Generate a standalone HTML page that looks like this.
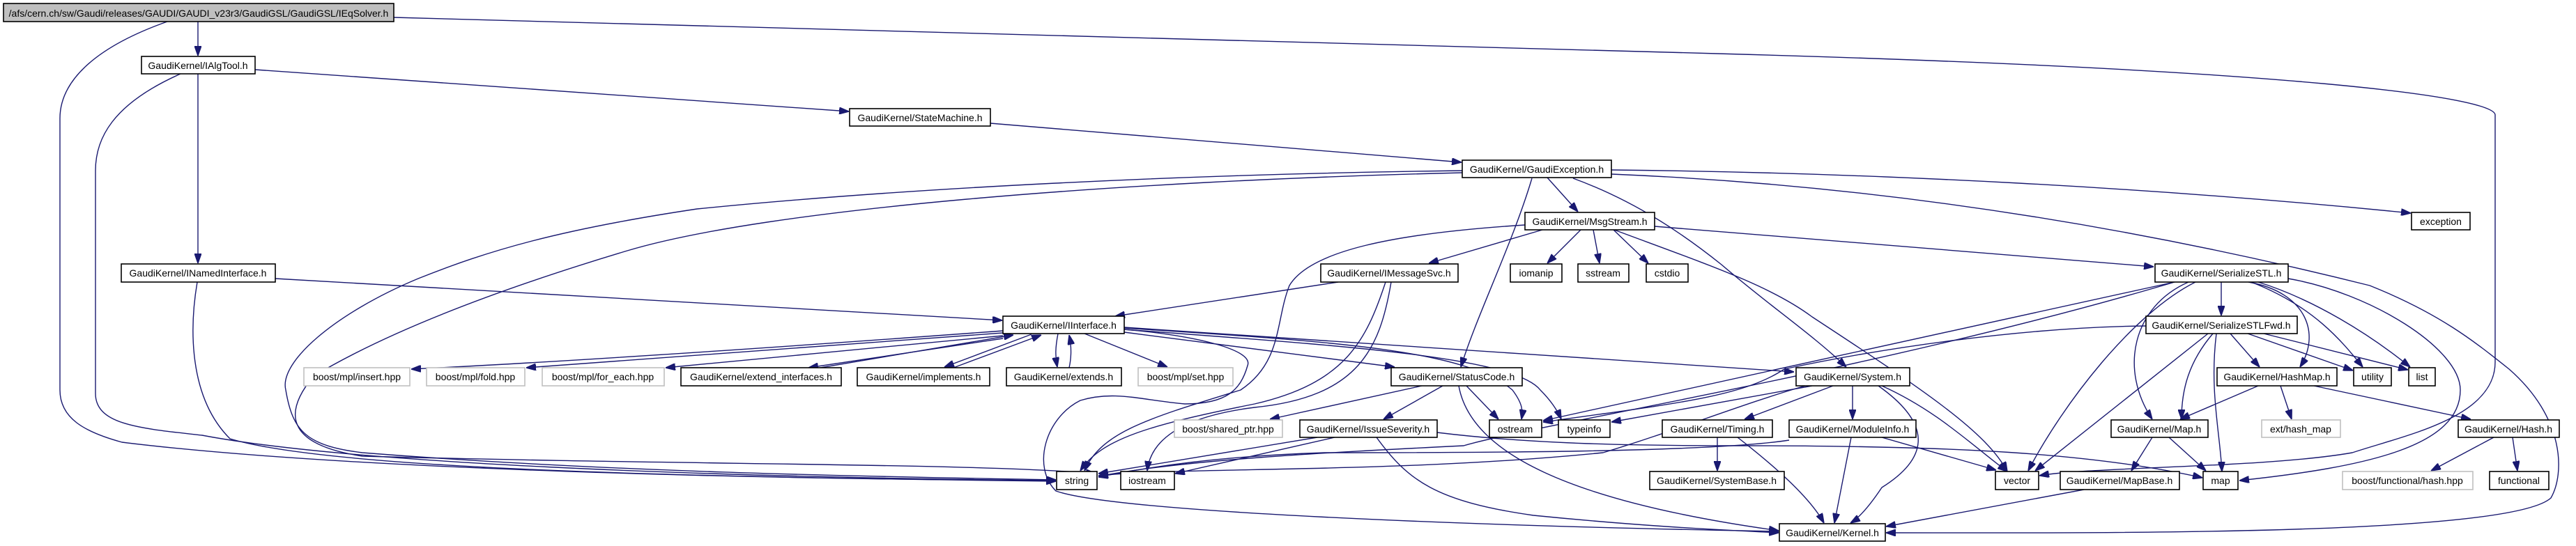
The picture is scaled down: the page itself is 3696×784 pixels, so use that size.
<!DOCTYPE html>
<html><head><meta charset="utf-8"><style>
html,body{margin:0;padding:0;background:#fff;}
svg{display:block;}
text{font-family:"Liberation Sans",sans-serif;font-size:14px;fill:#000;text-anchor:middle;}
.b rect{fill:#fff;stroke:#000;stroke-width:1.6;}
.g rect{fill:#fff;stroke:#bfbfbf;stroke-width:1.6;}
.e path{fill:none;stroke:#191970;stroke-width:1.4;marker-end:url(#a);}
</style></head><body>
<svg width="3696" height="784" viewBox="0 0 3696 784" xmlns="http://www.w3.org/2000/svg">
<defs><marker id="a" viewBox="0 0 10 7" refX="10" refY="3.5" markerWidth="14" markerHeight="10" markerUnits="userSpaceOnUse" orient="auto"><path d="M0,0 L10,3.5 L0,7 z" fill="#191970" stroke="#191970"/></marker></defs>
<g class="e">
<path d="M284,31 L284,80"/>
<path d="M240,31 C130,70 86,120 86,170 L86,560 C86,600 120,620 175,635 C500,675 1100,688 1515,690"/>
<path d="M565,25 L2464,77 C3300,100 3580,140 3580,165 L3580,520 C3580,600 3450,625 3375,650 C3250,672 3000,670 2926,683"/>
<path d="M366,100 L1218,160"/>
<path d="M259,106 C160,150 137,200 137,245 L137,565 C137,610 200,615 290,625 C500,665 1000,685 1515,690"/>
<path d="M284,106 L284,378"/>
<path d="M395,400 L1438,460"/>
<path d="M283,405 C272,470 270,570 330,630 C480,675 1000,685 1515,691"/>
<path d="M1421,177 L2097,233"/>
<path d="M2312,244 C2700,248 3100,270 3459,306"/>
<path d="M2312,250 C2800,270 3200,360 3400,410 C3500,450 3550,490 3600,530 C3680,600 3680,680 3660,715 C3600,770 3000,765 2706,765"/>
<path d="M2220,255 L2264,304"/>
<path d="M2198,256 C2170,350 2120,450 2096,527"/>
<path d="M2257,256 C2350,290 2420,340 2470,380 C2540,440 2600,480 2649,527"/>
<path d="M2098,245 C1700,250 1300,270 1000,300 C800,330 700,360 600,400 C480,450 400,520 410,560 C420,620 440,640 520,650 C900,680 1300,685 1515,689"/>
<path d="M2098,248 C1600,260 1100,300 900,360 C700,420 550,480 450,540 C400,600 420,640 520,655 C1000,668 1400,665 1572,680"/>
<path d="M2213,330 L2050,378"/>
<path d="M2268,330 L2220,378"/>
<path d="M2286,330 L2295,378"/>
<path d="M2315,330 L2365,378"/>
<path d="M2374,325 L3090,383"/>
<path d="M2316,330 C2450,380 2540,410 2600,455 C2760,560 2850,620 2880,677"/>
<path d="M2188,323 C2000,335 1880,360 1850,410 C1830,460 1840,520 1780,560 C1650,600 1580,620 1556,676"/>
<path d="M1920,405 L1600,454"/>
<path d="M1988,405 C1960,490 1930,550 1800,580 C1650,610 1580,630 1550,676"/>
<path d="M1996,405 C1980,500 1950,570 1800,585 C1680,600 1650,640 1646,676"/>
<path d="M1439,475 C1100,500 800,520 590,530"/>
<path d="M1439,478 L755,528"/>
<path d="M1439,482 L955,528"/>
<path d="M1439,486 L1160,528"/>
<path d="M1165,530 L1454,481"/>
<path d="M1480,480 L1355,527"/>
<path d="M1368,528 L1494,481"/>
<path d="M1518,479 C1514,500 1514,510 1517,527"/>
<path d="M1534,528 C1538,510 1537,495 1534,481"/>
<path d="M1556,479 L1675,527"/>
<path d="M1613,477 L2001,527"/>
<path d="M1613,470 L2574,534"/>
<path d="M1613,471 C1900,490 2100,500 2170,560 C2185,580 2185,590 2183,602"/>
<path d="M1613,473 C1900,495 2170,510 2210,560 C2230,580 2237,595 2240,602"/>
<path d="M1613,473 C1700,480 1800,500 1790,525 C1780,560 1760,580 1700,580 C1640,575 1600,560 1550,575 C1500,600 1480,670 1515,705 C1600,735 2100,755 2552,763"/>
<path d="M2040,554 L1822,602"/>
<path d="M2070,554 L1985,602"/>
<path d="M2104,554 L2150,602"/>
<path d="M2093,554 C2110,650 2250,720 2552,762"/>
<path d="M1890,628 L1576,680"/>
<path d="M1915,628 L1686,680"/>
<path d="M1975,628 C2020,690 2060,720 2200,740 C2350,755 2450,760 2552,765"/>
<path d="M2062,621 C2200,638 2350,640 2500,640 C2800,640 3000,650 3160,686"/>
<path d="M3187,405 L3187,453"/>
<path d="M3120,405 C2700,530 2200,610 2100,640 C1900,650 1700,660 1576,684"/>
<path d="M3120,405 L2214,604"/>
<path d="M3079,468 C2900,470 2700,500 2560,530 C2500,570 2400,580 2214,606"/>
<path d="M2600,554 L2312,606"/>
<path d="M2590,554 C2500,580 2400,620 2300,650 C2000,680 1700,670 1576,683"/>
<path d="M2630,554 L2503,602"/>
<path d="M2658,554 L2658,602"/>
<path d="M2700,554 C2780,590 2830,640 2880,677"/>
<path d="M2695,554 C2760,600 2780,650 2700,700 C2680,730 2665,745 2655,751"/>
<path d="M2464,628 L2464,676"/>
<path d="M2493,628 C2560,680 2600,720 2617,751"/>
<path d="M2656,628 L2632,751"/>
<path d="M2700,628 L2864,675"/>
<path d="M2567,632 C2450,650 2100,650 1900,650 C1750,655 1650,670 1576,685"/>
<path d="M2990,703 L2706,756"/>
<path d="M3200,479 L3242,527"/>
<path d="M3225,479 L3376,532"/>
<path d="M3248,479 L3455,531"/>
<path d="M3175,479 C3140,520 3130,560 3130,602"/>
<path d="M3180,479 C3170,560 3185,620 3188,677"/>
<path d="M3168,479 L2920,676"/>
<path d="M3150,405 C3060,450 2960,580 2910,676"/>
<path d="M3140,405 C3060,440 3040,530 3088,602"/>
<path d="M3226,405 C3310,420 3330,480 3300,527"/>
<path d="M3230,405 C3320,440 3360,490 3390,527"/>
<path d="M3240,405 C3320,430 3400,480 3458,527"/>
<path d="M3283,400 C3400,420 3530,500 3530,560 C3530,640 3400,670 3213,690"/>
<path d="M3240,554 L3128,602"/>
<path d="M3272,554 L3288,602"/>
<path d="M3320,554 L3545,602"/>
<path d="M3088,628 L3058,676"/>
<path d="M3112,628 L3165,676"/>
<path d="M3578,628 L3488,676"/>
<path d="M3605,628 L3612,676"/>
</g>
<g class="b"><rect x="5" y="5" width="560" height="26" style="fill:#bfbfbf"/><text x="285" y="24">/afs/cern.ch/sw/Gaudi/releases/GAUDI/GAUDI_v23r3/GaudiGSL/GaudiGSL/IEqSolver.h</text></g>
<g class="b"><rect x="203" y="81" width="163" height="25"/><text x="284" y="99">GaudiKernel/IAlgTool.h</text></g>
<g class="b"><rect x="174" y="379" width="221" height="26"/><text x="284" y="397">GaudiKernel/INamedInterface.h</text></g>
<g class="b"><rect x="1219" y="156" width="202" height="25"/><text x="1320" y="174">GaudiKernel/StateMachine.h</text></g>
<g class="b"><rect x="2098" y="230" width="214" height="25"/><text x="2205" y="248">GaudiKernel/GaudiException.h</text></g>
<g class="b"><rect x="2188" y="305" width="186" height="25"/><text x="2281" y="323">GaudiKernel/MsgStream.h</text></g>
<g class="b"><rect x="3460" y="305" width="84" height="25"/><text x="3502" y="323">exception</text></g>
<g class="b"><rect x="1895" y="379" width="197" height="26"/><text x="1993" y="397">GaudiKernel/IMessageSvc.h</text></g>
<g class="b"><rect x="2167" y="379" width="74" height="26"/><text x="2204" y="397">iomanip</text></g>
<g class="b"><rect x="2264" y="379" width="73" height="26"/><text x="2300" y="397">sstream</text></g>
<g class="b"><rect x="2362" y="379" width="60" height="26"/><text x="2392" y="397">cstdio</text></g>
<g class="b"><rect x="3092" y="379" width="191" height="26"/><text x="3187" y="397">GaudiKernel/SerializeSTL.h</text></g>
<g class="b"><rect x="1439" y="454" width="174" height="25"/><text x="1526" y="472">GaudiKernel/IInterface.h</text></g>
<g class="b"><rect x="3079" y="454" width="217" height="25"/><text x="3187" y="472">GaudiKernel/SerializeSTLFwd.h</text></g>
<g class="g"><rect x="436" y="528" width="152" height="26"/><text x="512" y="546">boost/mpl/insert.hpp</text></g>
<g class="g"><rect x="612" y="528" width="141" height="26"/><text x="682" y="546">boost/mpl/fold.hpp</text></g>
<g class="g"><rect x="778" y="528" width="175" height="26"/><text x="865" y="546">boost/mpl/for_each.hpp</text></g>
<g class="b"><rect x="977" y="528" width="230" height="26"/><text x="1092" y="546">GaudiKernel/extend_interfaces.h</text></g>
<g class="b"><rect x="1230" y="528" width="190" height="26"/><text x="1325" y="546">GaudiKernel/implements.h</text></g>
<g class="b"><rect x="1444" y="528" width="165" height="26"/><text x="1526" y="546">GaudiKernel/extends.h</text></g>
<g class="g"><rect x="1633" y="528" width="136" height="26"/><text x="1701" y="546">boost/mpl/set.hpp</text></g>
<g class="b"><rect x="1996" y="528" width="188" height="26"/><text x="2090" y="546">GaudiKernel/StatusCode.h</text></g>
<g class="b"><rect x="2577" y="528" width="163" height="26"/><text x="2658" y="546">GaudiKernel/System.h</text></g>
<g class="b"><rect x="3181" y="528" width="172" height="26"/><text x="3267" y="546">GaudiKernel/HashMap.h</text></g>
<g class="b"><rect x="3377" y="528" width="54" height="26"/><text x="3404" y="546">utility</text></g>
<g class="b"><rect x="3456" y="528" width="38" height="26"/><text x="3475" y="546">list</text></g>
<g class="g"><rect x="1685" y="603" width="155" height="25"/><text x="1762" y="621">boost/shared_ptr.hpp</text></g>
<g class="b"><rect x="1865" y="603" width="197" height="25"/><text x="1963" y="621">GaudiKernel/IssueSeverity.h</text></g>
<g class="b"><rect x="2137" y="603" width="75" height="25"/><text x="2174" y="621">ostream</text></g>
<g class="b"><rect x="2236" y="603" width="74" height="25"/><text x="2273" y="621">typeinfo</text></g>
<g class="b"><rect x="2385" y="603" width="158" height="25"/><text x="2464" y="621">GaudiKernel/Timing.h</text></g>
<g class="b"><rect x="2567" y="603" width="182" height="25"/><text x="2658" y="621">GaudiKernel/ModuleInfo.h</text></g>
<g class="b"><rect x="3029" y="603" width="139" height="25"/><text x="3098" y="621">GaudiKernel/Map.h</text></g>
<g class="g"><rect x="3245" y="603" width="113" height="25"/><text x="3301" y="621">ext/hash_map</text></g>
<g class="b"><rect x="3527" y="603" width="145" height="25"/><text x="3599" y="621">GaudiKernel/Hash.h</text></g>
<g class="b"><rect x="1516" y="677" width="58" height="26"/><text x="1545" y="695">string</text></g>
<g class="b"><rect x="1608" y="677" width="77" height="26"/><text x="1646" y="695">iostream</text></g>
<g class="b"><rect x="2367" y="677" width="193" height="26"/><text x="2463" y="695">GaudiKernel/SystemBase.h</text></g>
<g class="b"><rect x="2863" y="677" width="62" height="26"/><text x="2894" y="695">vector</text></g>
<g class="b"><rect x="2956" y="677" width="171" height="26"/><text x="3041" y="695">GaudiKernel/MapBase.h</text></g>
<g class="b"><rect x="3161" y="677" width="50" height="26"/><text x="3186" y="695">map</text></g>
<g class="g"><rect x="3361" y="677" width="187" height="26"/><text x="3454" y="695">boost/functional/hash.hpp</text></g>
<g class="b"><rect x="3572" y="677" width="85" height="26"/><text x="3614" y="695">functional</text></g>
<g class="b"><rect x="2553" y="752" width="152" height="25"/><text x="2629" y="770">GaudiKernel/Kernel.h</text></g>
</svg>
</body></html>
